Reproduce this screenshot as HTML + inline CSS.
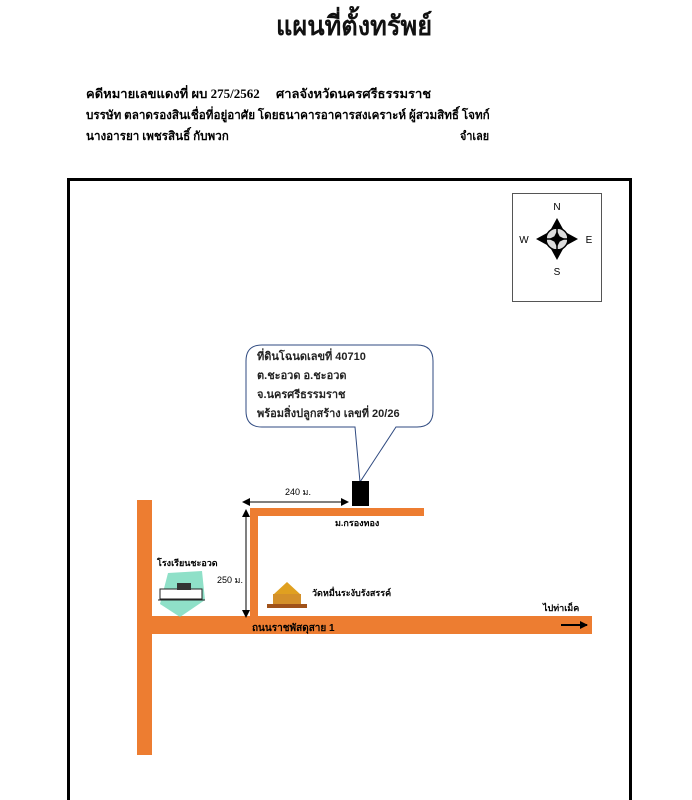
<!DOCTYPE html>
<html><head><meta charset="utf-8"><style>
html,body{margin:0;padding:0;background:#fff;}
body{width:692px;height:800px;overflow:hidden;position:relative;font-family:"Liberation Serif","Noto Serif CJK SC",serif;}
.t{position:absolute;white-space:nowrap;}
</style></head><body>
<div class="t" style="left:276px;top:4px;font-size:27px;font-weight:bold;color:#111;transform:scaleX(0.94);transform-origin:left top;">แผนที่ตั้งทรัพย์</div>
<div class="t" style="left:86px;top:84px;font-size:12.5px;font-weight:bold;transform:scaleX(1.04);transform-origin:left top;">คดีหมายเลขแดงที่ ผบ 275/2562 &nbsp;&nbsp;&nbsp;&nbsp;ศาลจังหวัดนครศรีธรรมราช</div>
<div class="t" style="left:86px;top:106px;font-size:12px;font-weight:bold;transform:scaleX(0.97);transform-origin:left top;">บรรษัท ตลาดรองสินเชื่อที่อยู่อาศัย โดยธนาคารอาคารสงเคราะห์ ผู้สวมสิทธิ์ โจทก์</div>
<div class="t" style="left:86px;top:127px;font-size:12px;font-weight:bold;transform:scaleX(0.97);transform-origin:left top;">นางอารยา เพชรสินธิ์ กับพวก</div>
<div class="t" style="left:460px;top:127px;font-size:12px;font-weight:bold;transform:scaleX(0.9);transform-origin:left top;">จำเลย</div>

<svg width="692" height="800" style="position:absolute;left:0;top:0" font-family="Liberation Sans, Noto Sans CJK SC, sans-serif">
<defs>
<marker id="a" markerWidth="8" markerHeight="8" refX="7" refY="4" orient="auto-start-reverse"><path d="M0,0 L8,4 L0,8z" fill="#000"/></marker>
<marker id="b" markerWidth="4" markerHeight="4" refX="3.5" refY="2" orient="auto"><path d="M0,0 L4,2 L0,4z" fill="#000"/></marker>
</defs>
<rect x="68.5" y="179.5" width="562" height="640" fill="none" stroke="#000" stroke-width="3"/>
<!-- compass -->
<rect x="512.5" y="193.5" width="89" height="108" fill="#fff" stroke="#555" stroke-width="1"/>
<circle cx="557" cy="239" r="11" fill="#ddd" stroke="#000" stroke-width="1.5"/>
<path d="M557,218 L551,229 L563,229z M557,260 L551,249 L563,249z M536,239 L547,233 L547,245z M578,239 L567,233 L567,245z" fill="#000"/>
<path d="M557,231 L561,239 L557,247 L553,239z M549,239 L557,235 L565,239 L557,243z" fill="#000"/>
<line x1="545" y1="239" x2="569" y2="239" stroke="#000" stroke-width="1.5"/>
<line x1="557" y1="227" x2="557" y2="251" stroke="#000" stroke-width="1.5"/>
<text x="557" y="210" font-size="10" text-anchor="middle">N</text>
<text x="557" y="275" font-size="10" text-anchor="middle">S</text>
<text x="524" y="243" font-size="10" text-anchor="middle">W</text>
<text x="589" y="243" font-size="10" text-anchor="middle">E</text>
<!-- callout -->
<path d="M262,345 H417 Q433,345 433,361 V411 Q433,427 417,427 H396 L360,482 L355,427 H262 Q246,427 246,411 V361 Q246,345 262,345z" fill="#fff" stroke="#2f4a80" stroke-width="1"/>
<g font-size="11" font-weight="bold" fill="#222">
<text x="257" y="360">ที่ดินโฉนดเลขที่ 40710</text>
<text x="257" y="379">ต.ชะอวด อ.ชะอวด</text>
<text x="257" y="398">จ.นครศรีธรรมราช</text>
<text x="257" y="417">พร้อมสิ่งปลูกสร้าง เลขที่ 20/26</text>
</g>
<rect x="352" y="481" width="17" height="25" fill="#000"/>
<!-- roads -->
<g fill="#ed7d31">
<rect x="137" y="500" width="15" height="255"/>
<rect x="137" y="616" width="455" height="18"/>
<rect x="250" y="509" width="8" height="110"/>
<rect x="250" y="508" width="174" height="8"/>
</g>
<!-- dimensions -->
<line x1="243" y1="502" x2="348" y2="502" stroke="#000" marker-start="url(#a)" marker-end="url(#a)"/>
<text x="285" y="495" font-size="9">240 ม.</text>
<line x1="246" y1="510" x2="246" y2="617" stroke="#000" marker-start="url(#a)" marker-end="url(#a)"/>
<text x="217" y="583" font-size="9">250 ม.</text>
<text x="335" y="526" font-size="9" font-weight="bold">ม.กรองทอง</text>
<text x="157" y="566" font-size="9" font-weight="bold">โรงเรียนชะอวด</text>
<!-- school icon -->
<path d="M168,573 L202,571 L205,600 L180,617 L160,604z" fill="#5fd3b0" opacity="0.7"/>
<rect x="160" y="589" width="42" height="10" fill="#fff" stroke="#222"/>
<rect x="177" y="583" width="14" height="7" fill="#333"/>
<line x1="158" y1="600" x2="205" y2="600" stroke="#222"/>
<!-- temple icon -->
<path d="M287,582 L300,594 L274,594z" fill="#e0a020"/>
<rect x="273" y="594" width="28" height="10" fill="#d4902a"/>
<rect x="267" y="604" width="40" height="4" fill="#a0521a"/>
<text x="312" y="596" font-size="9" font-weight="bold">วัดหมื่นระงับรังสรรค์</text>
<text x="252" y="631" font-size="10" font-weight="bold">ถนนราชพัสดุสาย 1</text>
<text x="543" y="611" font-size="9" font-weight="bold">ไปท่าเม็ค</text>
<line x1="561" y1="625" x2="587" y2="625" stroke="#000" stroke-width="2" marker-end="url(#b)"/>
</svg>
</body></html>
